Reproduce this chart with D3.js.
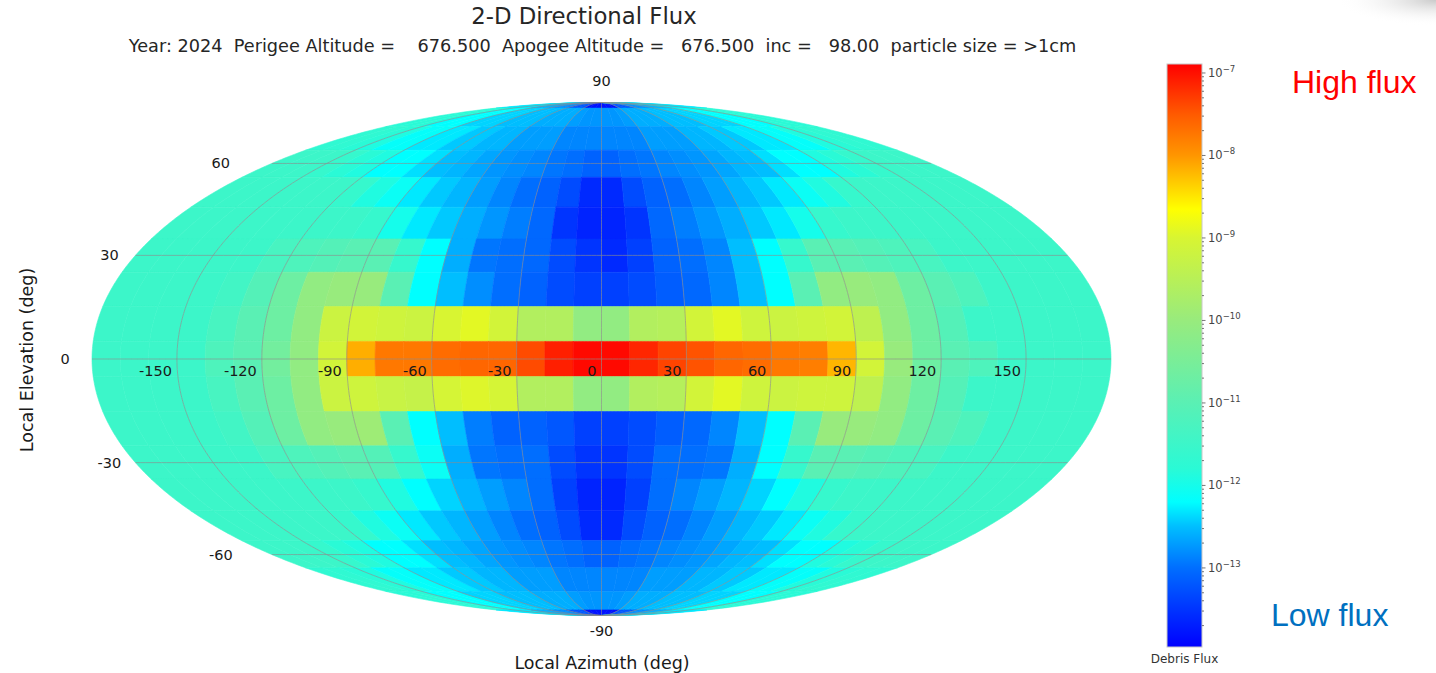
<!DOCTYPE html>
<html>
<head>
<meta charset="utf-8">
<script src="https://cdn.jsdelivr.net/npm/d3@7"></script>
<style>
  body { margin: 0; background: #ffffff; }
  svg { display: block; font-family: "DejaVu Sans", sans-serif; }
</style>
</head>
<body>
<svg id="chart" width="1436" height="673"></svg>
<script>
// ---------------- DATA ----------------
// Local elevation band centres (deg), each band 10 deg tall (poles: half band)
const elevationCenters = [90, 80, 70, 60, 50, 40, 30, 20, 10, 0, -10, -20, -30, -40, -50, -60, -70, -80, -90];
// Local azimuth cell starts (deg), each cell 10 deg wide
const azimuthStarts = [-180,-170,-160,-150,-140,-130,-120,-110,-100,-90,-80,-70,-60,-50,-40,-30,-20,-10,
                       0,10,20,30,40,50,60,70,80,90,100,110,120,130,140,150,160,170];

// log10(debris flux) per cell, one row per elevation band (azimuth -180 -> 180)
const fluxP90 = [-12.3,-12.3,-12.3,-12.3,-12.3,-12.3,-12.6,-12.6,-12.6,-12.8,-12.8,-12.8,-13.2,-13.2,-13.2,-13.8,-13.8,-13.8,
                 -13.8,-13.8,-13.8,-13.2,-13.2,-13.2,-12.8,-12.8,-12.8,-12.6,-12.6,-12.6,-12.3,-12.3,-12.3,-12.3,-12.3,-12.3];
const fluxP80 = [-11.8,-11.8,-11.8,-12.2,-12.2,-12.2,-12.4,-12.4,-12.4,-12.5,-12.5,-12.5,-12.6,-12.6,-12.6,-12.7,-12.75,-12.75,
                 -12.75,-12.75,-12.7,-12.6,-12.6,-12.6,-12.5,-12.5,-12.5,-12.4,-12.4,-12.4,-12.2,-12.2,-12.2,-11.8,-11.8,-11.8];
const fluxP70 = [-11.7,-11.7,-11.8,-11.9,-12.15,-12.15,-12.3,-12.3,-12.45,-12.45,-12.55,-12.55,-12.7,-12.7,-12.7,-12.85,-12.85,-12.85,
                 -12.85,-12.85,-12.85,-12.7,-12.7,-12.7,-12.55,-12.55,-12.45,-12.45,-12.3,-12.3,-12.15,-12.15,-11.9,-11.8,-11.7,-11.7];
const fluxP60 = [-11.5,-11.5,-11.5,-11.6,-11.8,-11.9,-12.2,-12.2,-12.35,-12.5,-12.55,-12.65,-12.75,-12.8,-12.85,-12.95,-13.0,-13.1,
                 -13.1,-13.0,-12.95,-12.85,-12.8,-12.75,-12.65,-12.55,-12.5,-12.35,-12.2,-12.2,-11.9,-11.8,-11.6,-11.5,-11.5,-11.5];
const fluxP50 = [-11.5,-11.5,-11.5,-11.5,-11.5,-11.5,-11.6,-11.9,-12.1,-12.3,-12.45,-12.55,-12.7,-12.85,-13.0,-13.1,-13.3,-13.6,
                 -13.6,-13.3,-13.1,-13.0,-12.85,-12.7,-12.55,-12.45,-12.3,-12.1,-11.9,-11.6,-11.5,-11.5,-11.5,-11.5,-11.5,-11.5];
const fluxP40 = [-11.5,-11.5,-11.5,-11.5,-11.5,-11.5,-11.5,-11.5,-11.6,-12.0,-12.3,-12.45,-12.6,-12.75,-12.9,-13.05,-13.5,-13.65,
                 -13.65,-13.5,-13.05,-12.9,-12.75,-12.6,-12.45,-12.3,-12.0,-11.6,-11.5,-11.5,-11.5,-11.5,-11.5,-11.5,-11.5,-11.5];
const fluxP30 = [-11.5,-11.5,-11.5,-11.5,-11.5,-11.3,-11.2,-11.1,-11.0,-11.0,-11.6,-12.2,-12.6,-12.95,-13.0,-13.05,-13.3,-13.5,
                 -13.6,-13.4,-13.1,-13.0,-12.85,-12.5,-12.2,-11.6,-11.0,-11.0,-11.1,-11.2,-11.3,-11.5,-11.5,-11.5,-11.5,-11.5];
const fluxP20 = [-11.5,-11.5,-11.5,-11.5,-11.4,-11.1,-10.7,-10.1,-10.0,-10.0,-11.0,-12.2,-12.5,-12.8,-13.0,-13.1,-13.3,-13.4,
                 -13.4,-13.3,-13.15,-13.05,-12.85,-12.5,-12.2,-11.0,-10.1,-10.0,-10.1,-10.7,-11.0,-11.2,-11.5,-11.5,-11.5,-11.5];
const fluxP10 = [-11.5,-11.5,-11.5,-11.5,-11.3,-11.0,-10.7,-10.1,-9.2,-9.1,-9.15,-9.2,-9.0,-8.9,-9.1,-9.6,-9.6,-10.1,
                 -10.1,-9.6,-9.55,-9.1,-8.9,-9.15,-9.2,-9.15,-9.1,-9.4,-10.1,-10.7,-11.1,-11.5,-11.5,-11.5,-11.5,-11.5];
const flux00  = [-11.5,-11.5,-11.5,-11.5,-11.2,-11.0,-10.6,-10.1,-9.1,-8.15,-7.75,-7.75,-7.65,-7.6,-7.6,-7.4,-7.1,-6.95,
                 -6.95,-7.15,-7.35,-7.45,-7.6,-7.65,-7.75,-7.8,-8.2,-9.1,-10.0,-10.7,-11.0,-11.2,-11.5,-11.5,-11.5,-11.5];
const fluxM10 = [-11.5,-11.5,-11.5,-11.5,-11.3,-11.0,-10.7,-10.1,-9.2,-9.15,-9.25,-9.3,-9.05,-8.95,-9.05,-9.6,-9.6,-10.1,
                 -10.1,-9.6,-9.55,-9.1,-8.9,-9.15,-9.2,-9.15,-9.15,-9.4,-10.1,-10.7,-11.1,-11.5,-11.5,-11.5,-11.5,-11.5];
const fluxM20 = [-11.5,-11.5,-11.5,-11.5,-11.4,-11.1,-10.7,-10.1,-10.0,-9.9,-11.0,-12.2,-12.5,-12.9,-13.1,-13.1,-13.2,-13.4,
                 -13.4,-13.3,-13.15,-13.05,-12.85,-12.5,-12.2,-11.0,-10.0,-10.0,-10.1,-10.7,-11.0,-11.2,-11.5,-11.5,-11.5,-11.5];
const fluxM30 = [-11.5,-11.5,-11.5,-11.5,-11.5,-11.3,-11.2,-11.1,-11.0,-11.1,-11.6,-12.1,-12.6,-12.95,-13.0,-13.0,-13.3,-13.5,
                 -13.5,-13.3,-13.0,-13.0,-12.95,-12.6,-12.2,-11.6,-11.0,-11.0,-11.1,-11.2,-11.3,-11.5,-11.5,-11.5,-11.5,-11.5];
const fluxM40 = [-11.5,-11.5,-11.5,-11.5,-11.5,-11.5,-11.5,-11.5,-11.6,-11.9,-12.2,-12.4,-12.55,-12.7,-12.85,-13.0,-13.4,-13.65,
                 -13.65,-13.4,-13.0,-12.85,-12.7,-12.55,-12.4,-12.2,-11.9,-11.6,-11.5,-11.5,-11.5,-11.5,-11.5,-11.5,-11.5,-11.5];
const fluxM50 = [-11.5,-11.5,-11.5,-11.5,-11.5,-11.5,-11.6,-11.9,-12.1,-12.3,-12.45,-12.55,-12.7,-12.85,-13.0,-13.1,-13.3,-13.6,
                 -13.6,-13.3,-13.1,-13.0,-12.85,-12.7,-12.55,-12.45,-12.3,-12.1,-11.9,-11.6,-11.5,-11.5,-11.5,-11.5,-11.5,-11.5];
const fluxM60 = [-11.5,-11.5,-11.5,-11.6,-11.8,-11.9,-12.2,-12.2,-12.35,-12.5,-12.55,-12.65,-12.75,-12.8,-12.85,-12.95,-13.0,-13.1,
                 -13.1,-13.0,-12.95,-12.85,-12.8,-12.75,-12.65,-12.55,-12.5,-12.35,-12.2,-12.2,-11.9,-11.8,-11.6,-11.5,-11.5,-11.5];
const fluxM70 = [-11.7,-11.7,-11.8,-11.9,-12.15,-12.15,-12.3,-12.3,-12.45,-12.45,-12.55,-12.55,-12.7,-12.7,-12.7,-12.85,-12.85,-12.85,
                 -12.85,-12.85,-12.85,-12.7,-12.7,-12.7,-12.55,-12.55,-12.45,-12.45,-12.3,-12.3,-12.15,-12.15,-11.9,-11.8,-11.7,-11.7];
const fluxM80 = [-11.8,-11.8,-11.8,-12.2,-12.2,-12.2,-12.4,-12.4,-12.4,-12.5,-12.5,-12.5,-12.6,-12.6,-12.6,-12.7,-12.75,-12.75,
                 -12.75,-12.75,-12.7,-12.6,-12.6,-12.6,-12.5,-12.5,-12.5,-12.4,-12.4,-12.4,-12.2,-12.2,-12.2,-11.8,-11.8,-11.8];
const fluxM90 = [-12.3,-12.3,-12.3,-12.3,-12.3,-12.3,-12.6,-12.6,-12.6,-12.8,-12.8,-12.8,-13.2,-13.2,-13.2,-13.8,-13.8,-13.8,
                 -13.8,-13.8,-13.8,-13.2,-13.2,-13.2,-12.8,-12.8,-12.8,-12.6,-12.6,-12.6,-12.3,-12.3,-12.3,-12.3,-12.3,-12.3];
const fluxRows = [fluxP90, fluxP80, fluxP70, fluxP60, fluxP50, fluxP40, fluxP30, fluxP20, fluxP10, flux00,
                  fluxM10, fluxM20, fluxM30, fluxM40, fluxM50, fluxM60, fluxM70, fluxM80, fluxM90];

// axis ticks
const azimuthTicks = [-150, -120, -90, -60, -30, 0, 30, 60, 90, 120, 150];
const elevationTicks = [90, 60, 30, 0, -30, -60, -90];
const colorbarMajor = [-13, -12, -11, -10, -9, -8, -7];
const colorbarDomain = [1.1e-14, 1.285e-7];

// colour map (log10 flux -> colour)
const cmapStops = [-13.96, -13.5, -13.0, -12.5, -12.2, -11.8, -11.0, -10.0, -9.0, -8.65, -8.0, -7.5, -6.89];
const cmapColors = ["#0000ff", "#0034ff", "#006eff", "#00beff", "#00ffff", "#2afad6", "#5af0b4", "#98eb7d",
                    "#d8f532", "#ffff00", "#ff9600", "#ff5a00", "#ff0000"];

const titleText = "2-D Directional Flux";
const subtitleText = "Year: 2024  Perigee Altitude =    676.500  Apogee Altitude =   676.500  inc =   98.00  particle size = >1cm";

// ---------------- CHART ----------------
const svg = d3.select("#chart");

// faint grey shading in the top-right corner of the slide
const defs = svg.append("defs");
const corner = defs.append("radialGradient").attr("id", "corner")
  .attr("cx", 1.0).attr("cy", 0.0).attr("r", 1.0);
corner.append("stop").attr("offset", 0).attr("stop-color", "#c4c4c4").attr("stop-opacity", 0.9);
corner.append("stop").attr("offset", 1).attr("stop-color", "#ffffff").attr("stop-opacity", 0);
svg.append("rect").attr("x", 1336).attr("y", 0).attr("width", 100).attr("height", 26).attr("fill", "url(#corner)");

// Mollweide raw projection
function mollweideRaw(lambda, phi) {
  const cp = Math.PI * Math.sin(phi);
  let t = phi;
  if (Math.abs(Math.abs(phi) - Math.PI / 2) > 1e-9) {
    let t2 = phi, delta, i = 60;
    do {
      delta = (t2 + Math.sin(t2) - cp) / (1 + Math.cos(t2));
      t2 -= delta;
    } while (Math.abs(delta) > 1e-10 && --i > 0);
    t = t2 / 2;
  }
  return [2 * Math.SQRT2 / Math.PI * lambda * Math.cos(t), Math.SQRT2 * Math.sin(t)];
}
const projection = d3.geoProjection(mollweideRaw).scale(1).translate([0, 0]);

// plot-area scales from projected units to pixels
const sx = d3.scaleLinear().domain([-2 * Math.SQRT2, 2 * Math.SQRT2]).range([92, 1111]);
const sy = d3.scaleLinear().domain([-Math.SQRT2, Math.SQRT2]).range([615.5, 102.5]);
function proj(lon, lat) {
  const p = projection([lon, lat]);
  return [sx(p[0]), sy(-p[1])];
}
const line = d3.line();

const color = d3.scaleLinear().domain(cmapStops).range(cmapColors).clamp(true);

// cells
function cellPath(lon0, lon1, lat0, lat1) {
  const pts = [];
  for (let l = lon0; l <= lon1 + 1e-9; l += 0.5) pts.push(proj(l, lat0));
  for (let a = lat0; a <= lat1 + 1e-9; a += 0.5) pts.push(proj(lon1, a));
  for (let l = lon1; l >= lon0 - 1e-9; l -= 0.5) pts.push(proj(l, lat1));
  for (let a = lat1; a >= lat0 - 1e-9; a -= 0.5) pts.push(proj(lon0, a));
  return line(pts) + "Z";
}
const cells = [];
elevationCenters.forEach((c, i) => {
  const lat0 = Math.max(c - 5, -90), lat1 = Math.min(c + 5, 90);
  azimuthStarts.forEach((a, j) => {
    cells.push({ lon0: a, lon1: a + 10, lat0, lat1, v: fluxRows[i][j] });
  });
});
svg.append("g").selectAll("path").data(cells).join("path")
  .attr("d", d => cellPath(d.lon0, d.lon1, d.lat0, d.lat1))
  .attr("fill", d => color(d.v))
  .attr("stroke", d => color(d.v))
  .attr("stroke-width", 0.6)
  .attr("stroke-linejoin", "round");

// graticule
const grid = svg.append("g").attr("fill", "none").attr("stroke", "#8c8c8c")
  .attr("stroke-opacity", 0.7).attr("stroke-width", 0.9);
azimuthTicks.forEach(lon => {
  grid.append("path").attr("d", line(d3.range(-90, 90.01, 1).map(a => proj(lon, a))));
});
[-60, -30, 0, 30, 60].forEach(lat => {
  grid.append("path").attr("d", line(d3.range(-180, 180.01, 2).map(l => proj(l, lat))));
});

// azimuth tick labels
const tickColor = "#1a1a1a";
svg.append("g").selectAll("text").data(azimuthTicks).join("text")
  .attr("x", d => proj(d, 0)[0] - 5)
  .attr("y", proj(0, 0)[1] + 17)
  .attr("text-anchor", "end")
  .attr("font-size", 14.5)
  .attr("fill", tickColor)
  .text(d => d);

// elevation tick labels
const latLabelGap = { 0: 27, 30: 26, 60: 51 };
svg.append("g").selectAll("text").data(elevationTicks).join("text")
  .attr("x", d => Math.abs(d) === 90 ? proj(0, d)[0] : proj(-180, d)[0] - latLabelGap[Math.abs(d)])
  .attr("y", d => d === 90 ? proj(0, 90)[1] - 17 : d === -90 ? proj(0, -90)[1] + 20 : proj(-180, d)[1] + 5)
  .attr("text-anchor", "middle")
  .attr("font-size", 14.5)
  .attr("fill", tickColor)
  .text(d => d);

// titles
svg.append("text").attr("x", 584).attr("y", 24).attr("text-anchor", "middle")
  .attr("font-size", 22.8).attr("fill", "#262626").text(titleText);
svg.append("text").attr("x", 602.5).attr("y", 52).attr("text-anchor", "middle")
  .attr("font-size", 17.7).attr("fill", "#262626").style("white-space", "pre")
  .attr("xml:space", "preserve").text(subtitleText);

// axis labels
svg.append("text").attr("x", 602).attr("y", 669).attr("text-anchor", "middle")
  .attr("font-size", 17.5).attr("fill", "#1a1a1a").text("Local Azimuth (deg)");
svg.append("text").attr("transform", "translate(33,360) rotate(-90)").attr("text-anchor", "middle")
  .attr("font-size", 17.5).attr("fill", "#1a1a1a").text("Local Elevation (deg)");

// colour bar
const cbX = 1167, cbW = 35, cbTop = 64, cbBottom = 647;
const cbScale = d3.scaleLog().domain(colorbarDomain).range([cbBottom, cbTop]);
const grad = defs.append("linearGradient").attr("id", "cbgrad")
  .attr("x1", 0).attr("y1", 0).attr("x2", 0).attr("y2", 1);
cmapStops.slice().reverse().forEach((s, i) => {
  const col = cmapColors[cmapStops.length - 1 - i];
  const off = (cbScale(Math.pow(10, s)) - cbTop) / (cbBottom - cbTop);
  grad.append("stop").attr("offset", Math.max(0, Math.min(1, off))).attr("stop-color", col);
});
svg.append("rect").attr("x", cbX).attr("y", cbTop).attr("width", cbW).attr("height", cbBottom - cbTop)
  .attr("fill", "url(#cbgrad)").attr("stroke", "#c8c8c8").attr("stroke-width", 1);

const cbAxis = svg.append("g");
const minors = [];
for (let k = -14; k <= -7; k++) for (let m = 2; m <= 9; m++) {
  const v = m * Math.pow(10, k);
  if (v >= colorbarDomain[0] && v <= colorbarDomain[1]) minors.push(v);
}
cbAxis.selectAll("line.minor").data(minors).join("line")
  .attr("x1", cbX + cbW).attr("x2", cbX + cbW + 2)
  .attr("y1", d => cbScale(d)).attr("y2", d => cbScale(d))
  .attr("stroke", "#555").attr("stroke-width", 0.8);
cbAxis.selectAll("line.major").data(colorbarMajor).join("line")
  .attr("x1", cbX + cbW).attr("x2", cbX + cbW + 3.5)
  .attr("y1", d => cbScale(Math.pow(10, d))).attr("y2", d => cbScale(Math.pow(10, d)))
  .attr("stroke", "#555").attr("stroke-width", 0.8);
const lbl = cbAxis.selectAll("text").data(colorbarMajor).join("text")
  .attr("x", cbX + cbW + 6).attr("y", d => cbScale(Math.pow(10, d)) + 4)
  .attr("font-size", 11.5).attr("fill", "#444");
lbl.append("tspan").text("10");
lbl.append("tspan").attr("dy", -5).attr("font-size", 8.5).text(d => "\u2212" + Math.abs(d));
svg.append("text").attr("x", cbX + cbW / 2).attr("y", 663).attr("text-anchor", "middle")
  .attr("font-size", 12).attr("fill", "#333").text("Debris Flux");

// annotations
svg.append("text").attr("x", 1292).attr("y", 93).attr("font-family", "Liberation Sans, Arial, sans-serif")
  .attr("font-size", 32).attr("fill", "#ff0000").text("High flux");
svg.append("text").attr("x", 1271).attr("y", 626).attr("font-family", "Liberation Sans, Arial, sans-serif")
  .attr("font-size", 32).attr("fill", "#0070c0").text("Low flux");
</script>
</body>
</html>
